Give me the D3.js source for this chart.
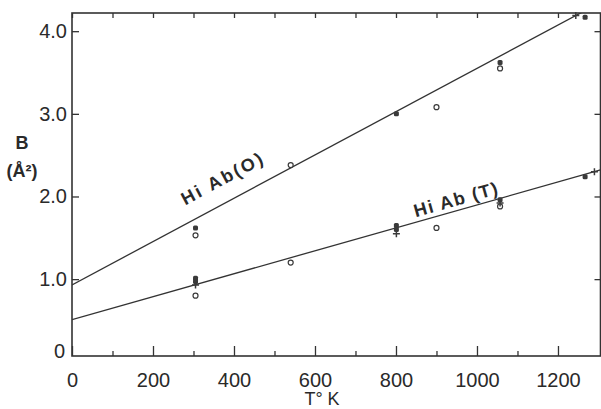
<!DOCTYPE html>
<html>
<head>
<meta charset="utf-8">
<script src="https://cdn.jsdelivr.net/npm/d3@7"></script>
<style>
  body { margin: 0; background: #fff; }
  text { font-family: "Liberation Sans Narrow", "Liberation Sans", Arial, sans-serif; fill: #2a2a2a; }
</style>
</head>
<body>
<div id="chart"></div>
<script>
// values
var xMajorTicks = [0, 200, 400, 600, 800, 1000, 1200];
var xMinorTicks = [100, 300, 500, 700, 900, 1100];
var yTicks = [1, 2, 3, 4];

// Hi Ab(O)
var oFilledT = [305, 801, 1057, 1267];
var oFilledB = [1.62, 3.00, 3.62, 4.17];
var oOpenT = [305, 540, 900, 1057];
var oOpenB = [1.53, 2.38, 3.08, 3.55];
var oCrossT = [1244];
var oCrossB = [4.19];

// Hi Ab(T)
var tFilledT = [305, 305, 801, 801, 1057, 1267];
var tFilledB = [1.01, 0.97, 1.65, 1.60, 1.96, 2.24];
var tOpenT = [305, 540, 900, 1057];
var tOpenB = [0.80, 1.20, 1.62, 1.88];
var tCrossT = [305, 801, 1057, 1290];
var tCrossB = [0.93, 1.55, 1.92, 2.30];

// fitted lines
var fitNames = ["Hi Ab(O)", "Hi Ab (T)"];
var fitIntercepts = [0.93, 0.51];
var fitSlopes = [0.00262, 0.001388];
var fitLabelT = [380, 953];
var fitLabelOffset = [0.23, 0.06];

var svgWidth = 601;
var svgHeight = 409;

var svg = d3.select("#chart")
    .append("svg")
    .attr("width", svgWidth)
    .attr("height", svgHeight);

var x = d3.scaleLinear().domain([0, 1305]).range([72, 600.5]);
var y = d3.scaleLinear().domain([0.07, 4.22]).range([356, 13]);

var ink = "#333";

svg.append("clipPath").attr("id", "plot")
    .append("rect")
    .attr("x", 72).attr("y", 13)
    .attr("width", 528.5).attr("height", 343);

// frame
svg.append("rect")
    .attr("x", 72).attr("y", 13)
    .attr("width", 528.5).attr("height", 343)
    .attr("fill", "none")
    .attr("stroke", ink)
    .attr("stroke-width", 1.6);

// axes
var bottom = svg.append("g")
    .attr("transform", "translate(0,356)")
    .call(d3.axisBottom(x).tickValues(xMajorTicks).tickSize(-10).tickPadding(17)
        .tickFormat(d3.format("d")));
svg.append("g")
    .attr("transform", "translate(0,356)")
    .call(d3.axisBottom(x).tickValues(xMinorTicks).tickSize(-5).tickFormat(""));
svg.append("g")
    .attr("transform", "translate(0,13)")
    .call(d3.axisTop(x).tickValues(xMajorTicks.concat(xMinorTicks)).tickSize(-5).tickFormat(""));

var left = svg.append("g")
    .attr("transform", "translate(72,0)")
    .call(d3.axisLeft(y).tickValues(yTicks).tickSize(-7).tickPadding(5)
        .tickFormat(d3.format(".1f")));
svg.append("g")
    .attr("transform", "translate(600.5,0)")
    .call(d3.axisRight(y).tickValues(yTicks).tickSize(-6).tickFormat(""));

svg.selectAll(".domain").remove();
svg.selectAll(".tick line").attr("stroke", ink).attr("stroke-width", 1.3);
svg.selectAll(".tick text")
    .style("font-size", "20px")
    .attr("fill", "#2a2a2a");

// zero label of the y axis sits on the bottom edge
svg.append("text")
    .attr("x", 65)
    .attr("y", y(0.07))
    .attr("dy", "0.1em")
    .attr("text-anchor", "end")
    .style("font-size", "20px")
    .text("0");

// axis titles
svg.append("text")
    .attr("x", 322).attr("y", 405)
    .attr("text-anchor", "middle")
    .style("font-size", "18px")
    .text("T° K");

svg.append("text")
    .attr("x", 22).attr("y", 149)
    .attr("text-anchor", "middle")
    .style("font-size", "18px")
    .style("font-weight", "bold")
    .text("B");
svg.append("text")
    .attr("x", 22).attr("y", 177)
    .attr("text-anchor", "middle")
    .style("font-size", "18px")
    .style("font-weight", "bold")
    .text("(Å²)");

// fitted lines
var lines = svg.append("g").attr("clip-path", "url(#plot)");
fitIntercepts.forEach(function(b0, i) {
    var ends = [0, 1305].map(function(t) { return [x(t), y(b0 + fitSlopes[i] * t)]; });
    lines.append("path")
        .attr("d", d3.line()(ends))
        .attr("fill", "none")
        .attr("stroke", ink)
        .attr("stroke-width", 1.3);

    var t = fitLabelT[i];
    var px = x(t), py = y(b0 + fitSlopes[i] * t + fitLabelOffset[i]);
    var ang = Math.atan2(y(b0 + fitSlopes[i] * 100) - y(b0), x(100) - x(0)) * 180 / Math.PI;
    svg.append("text")
        .attr("transform", "translate(" + px + "," + py + ") rotate(" + ang + ")")
        .attr("text-anchor", "middle")
        .style("font-size", "18px")
        .style("font-weight", "bold")
        .style("letter-spacing", i === 0 ? "2.5px" : "1.5px")
        .text(fitNames[i]);
});

// markers
function zip(ts, bs) { return ts.map(function(t, i) { return { t: t, b: bs[i] }; }); }

var marks = svg.append("g");

marks.selectAll(".filled")
    .data(zip(oFilledT, oFilledB).concat(zip(tFilledT, tFilledB)))
    .enter().append("rect")
    .attr("x", d => x(d.t) - 2.5)
    .attr("y", d => y(d.b) - 2.5)
    .attr("width", 5).attr("height", 5)
    .attr("rx", 1.5)
    .attr("fill", "#3a3a3a");

marks.selectAll(".open")
    .data(zip(oOpenT, oOpenB).concat(zip(tOpenT, tOpenB)))
    .enter().append("circle")
    .attr("cx", d => x(d.t))
    .attr("cy", d => y(d.b))
    .attr("r", 2.5)
    .attr("fill", "#fff")
    .attr("stroke", "#3a3a3a")
    .attr("stroke-width", 1.2);

marks.selectAll(".cross")
    .data(zip(oCrossT, oCrossB).concat(zip(tCrossT, tCrossB)))
    .enter().append("path")
    .attr("d", d => "M" + (x(d.t) - 3.5) + "," + y(d.b) + "h7M" + x(d.t) + "," + (y(d.b) - 3.5) + "v7")
    .attr("stroke", "#3a3a3a")
    .attr("stroke-width", 1.5);
</script>
</body>
</html>
